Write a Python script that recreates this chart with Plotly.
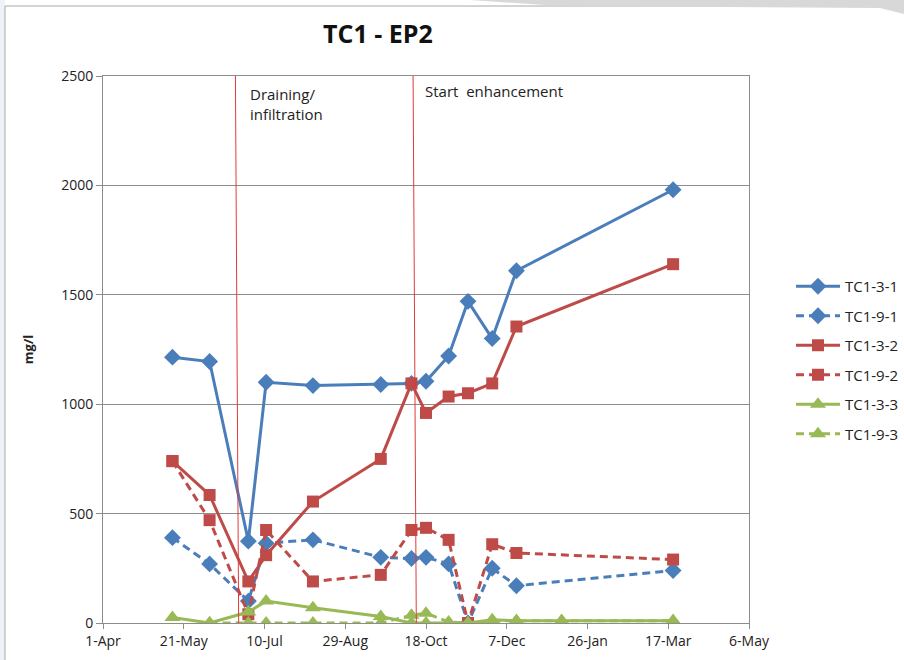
import plotly.graph_objects as go

# ---------------- data ----------------
dates = ["2010-05-14", "2010-06-06", "2010-06-30", "2010-07-11", "2010-08-09",
         "2010-09-20", "2010-10-09", "2010-10-18", "2010-11-01", "2010-11-13",
         "2010-11-28", "2010-12-13", "2011-01-10", "2011-03-20"]

tc1_3_1 = [1215, 1195, 374, 1100, 1085, 1090, 1095, 1105, 1220, 1470, 1300, 1610, None, 1980]
tc1_9_1 = [390, 270, 100, 365, 380, 300, 295, 300, 270, 0, 250, 170, None, 240]
tc1_3_2 = [740, 585, 190, 310, 555, 750, 1095, 960, 1035, 1050, 1095, 1355, None, 1640]
tc1_9_2 = [740, 470, 40, 425, 190, 220, 425, 435, 380, 0, 360, 320, None, 290]
tc1_3_3 = [25, 0, 50, 100, 70, 30, 0, 0, 0, 0, 15, 10, 10, 10]
tc1_9_3 = [None, 0, 0, 0, 0, 0, 35, 45, 5, 0, 10, 10, 10, 10]

series_names = ["TC1-3-1", "TC1-9-1", "TC1-3-2", "TC1-9-2", "TC1-3-3", "TC1-9-3"]

x_tick_vals = ["2010-04-01", "2010-05-21", "2010-07-10", "2010-08-29", "2010-10-18",
               "2010-12-07", "2011-01-26", "2011-03-17", "2011-05-06"]
x_tick_text = ["1-Apr", "21-May", "10-Jul", "29-Aug", "18-Oct", "7-Dec", "26-Jan", "17-Mar", "6-May"]
y_tick_vals = [0, 500, 1000, 1500, 2000, 2500]

event_dates = [("2010-06-22", "2010-06-24"), ("2010-10-10", "2010-10-12")]

# ---------------- styles ----------------
BLUE = "#4A7EBB"
RED = "#BE4B48"
GREEN = "#98B954"
styles = [
    (BLUE, "solid", "diamond", 13),
    (BLUE, "8px,5px", "diamond", 13),
    (RED, "solid", "square", 12),
    (RED, "8px,5px", "square", 12),
    (GREEN, "solid", "triangle-up", 14),
    (GREEN, "8px,5px", "triangle-up", 14),
]
all_values = [tc1_3_1, tc1_9_1, tc1_3_2, tc1_9_2, tc1_3_3, tc1_9_3]

fig = go.Figure()
for i, (name, vals) in enumerate(zip(series_names, all_values)):
    color, dash, sym, size = styles[i]
    fig.add_trace(go.Scatter(
        x=dates, y=vals, name=name, mode="lines+markers",
        connectgaps=True, legendgroup=name,
        line=dict(color=color, width=3, dash=dash),
        marker=dict(symbol=sym, size=size, color=color, line=dict(width=0)),
    ))

# plot area px: x 103..749, y 76..623
PL, PR, PT, PB = 103, 749, 76, 623
W, H = 904, 660
def px(x):
    return (x - PL) / (PR - PL)
def py(y):
    return (PB - y) / (PB - PT)

shapes = []
# event lines (slightly slanted, as hand drawn)
for top, bottom in event_dates:
    shapes.append(dict(type="line", xref="x", yref="y", x0=top, x1=bottom, y0=2500, y1=0,
                       line=dict(color="#E0393C", width=1)))
# outer frame and left strip
shapes.append(dict(type="rect", xref="paper", yref="paper", x0=px(0), x1=px(5), y0=py(660), y1=py(0),
                   fillcolor="#EEF3FA", line=dict(width=0), layer="below"))
shapes.append(dict(type="line", xref="paper", yref="paper", x0=px(5), x1=px(5), y0=py(660), y1=py(6),
                   line=dict(color="#A8A8A8", width=1)))
shapes.append(dict(type="line", xref="paper", yref="paper", x0=px(5), x1=px(904), y0=py(6), y1=py(6),
                   line=dict(color="#A8A8A8", width=1)))
# decorative swoosh at top right
shapes.append(dict(type="path", xref="paper", yref="paper",
                   path=f"M {px(470)},{py(0)} L {px(904)},{py(0)} L {px(904)},{py(14)} "
                        f"L {px(880)},{py(8)} L {px(560)},{py(6)} Z",
                   fillcolor="#D8D8D8", line=dict(width=0)))

annotations = [
    dict(text="<b>TC1 - EP2</b>", xref="paper", yref="paper", x=px(378), y=py(33),
         showarrow=False, font=dict(size=25, color="#111111", family="Open Sans"),
         xanchor="center", yanchor="middle"),
    dict(text="Draining/<br>infiltration", xref="paper", yref="paper", x=px(248), y=py(82),
         showarrow=False, align="left", xanchor="left", yanchor="top",
         font=dict(size=15, color="#222222")),
    dict(text="Start  enhancement", xref="paper", yref="paper", x=px(423), y=py(79),
         showarrow=False, align="left", xanchor="left", yanchor="top",
         font=dict(size=15, color="#222222")),
]

fig.update_layout(
    width=W, height=H,
    margin=dict(l=PL, r=W - PR, t=PT, b=H - PB, autoexpand=False),
    paper_bgcolor="white", plot_bgcolor="white",
    font=dict(family="Open Sans", size=14, color="#222222"),
    showlegend=True,
    legend=dict(x=px(791), y=py(270), xanchor="left", yanchor="top",
                tracegroupgap=7, itemwidth=44, font=dict(size=15, color="#222222"),
                bgcolor="rgba(0,0,0,0)"),
    shapes=shapes, annotations=annotations,
    xaxis=dict(type="date", range=["2010-04-01", "2011-05-06"],
               tickvals=x_tick_vals, ticktext=x_tick_text,
               showgrid=False, zeroline=False,
               showline=True, linecolor="#8C8C8C", linewidth=1, mirror=True,
               ticks="outside", ticklen=5, tickcolor="#8C8C8C",
               tickfont=dict(size=14, color="#222222")),
    yaxis=dict(range=[0, 2500], tickvals=y_tick_vals,
               showgrid=True, gridcolor="#8C8C8C", gridwidth=1, zeroline=False,
               showline=True, linecolor="#8C8C8C", linewidth=1, mirror=True,
               ticks="outside", ticklen=6, tickcolor="#8C8C8C",
               tickfont=dict(size=14, color="#222222"),
               title=dict(text="<b>mg/l</b>", font=dict(size=13, color="#222222"), standoff=24)),
)

fig.write_html("out.html", config={"displayModeBar": False},
               post_script="document.body.style.margin='0';")
